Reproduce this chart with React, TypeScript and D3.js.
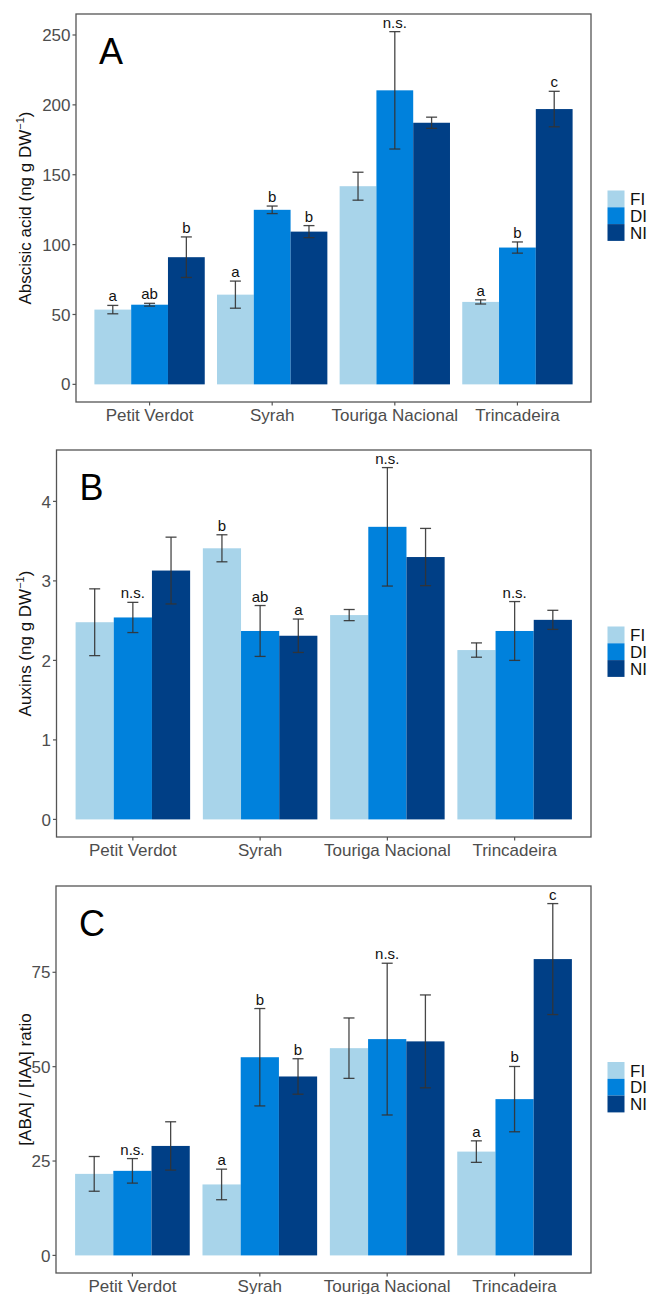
import React from 'react'
import * as d3 from 'd3'

const W = 650
const H = 1294

const cultivars = ['Petit Verdot', 'Syrah', 'Touriga Nacional', 'Trincadeira']
const treatments = ['FI', 'DI', 'NI']
const colors = ['#a8d4ea', '#0081dc', '#003f86']

// rows = cultivar, cols = FI, DI, NI
const abaMean = [[53.5, 57, 91], [64.2, 124.9, 109.3], [141.8, 210.4, 187.2], [59, 97.9, 197]]
const abaErr = [[3, 1, 14.5], [9.7, 2.7, 4.3], [10, 42, 4], [1.5, 4, 12.7]]
const abaLetters = [['a', 'ab', 'b'], ['a', 'b', 'b'], ['', 'n.s.', ''], ['a', 'b', 'c']]
const abaTicks = [0, 50, 100, 150, 200, 250]

const auxMean = [[2.48, 2.54, 3.13], [3.41, 2.37, 2.31], [2.57, 3.68, 3.3], [2.13, 2.37, 2.51]]
const auxErr = [[0.42, 0.19, 0.42], [0.17, 0.32, 0.21], [0.07, 0.745, 0.36], [0.09, 0.37, 0.12]]
const auxLetters = [['', 'n.s.', ''], ['b', 'ab', 'a'], ['', 'n.s.', ''], ['', 'n.s.', '']]
const auxTicks = [0, 1, 2, 3, 4]

const ratioMean = [[21.6, 22.4, 29.0], [18.8, 52.5, 47.4], [54.9, 57.3, 56.7], [27.5, 41.4, 78.5]]
const ratioErr = [[4.6, 3.25, 6.4], [4.05, 12.9, 4.7], [8, 20.1, 12.3], [2.85, 8.65, 14.7]]
const ratioLetters = [['', 'n.s.', ''], ['a', 'b', 'b'], ['', 'n.s.', ''], ['a', 'b', 'c']]
const ratioTicks = [0, 25, 50, 75]

const font = 'Liberation Sans, Arial, sans-serif'

const Panel = ({left, top, right, bottom, mean, err, letters, ticks, tag, title, legendTop}) => {
  const x = d3.scaleLinear().domain([0.4, 4.6]).range([left, right])
  const hi = d3.max(mean.flatMap((r, i) => r.map((m, j) => m + err[i][j])))
  const y = d3.scaleLinear().domain([-0.05 * hi, hi * 1.05]).range([bottom, top])
  const bw = 0.3

  return (
    <g fontFamily={font}>
      {mean.map((row, i) =>
        row.map((m, j) => {
          const c = i + 1 + (j - 1) * bw
          return (
            <rect key={`b${i}${j}`} x={x(c - bw / 2)} y={y(m)}
              width={x(c + bw / 2) - x(c - bw / 2)} height={y(0) - y(m)} fill={colors[j]} />
          )
        })
      )}
      {mean.map((row, i) =>
        row.map((m, j) => {
          const c = x(i + 1 + (j - 1) * bw)
          const y1 = y(m + err[i][j])
          const y2 = y(m - err[i][j])
          return (
            <g key={`e${i}${j}`} stroke="#333" strokeWidth={1.3} strokeOpacity={0.9}>
              <line x1={c} x2={c} y1={y1} y2={y2} />
              <line x1={c - 5.5} x2={c + 5.5} y1={y1} y2={y1} />
              <line x1={c - 5.5} x2={c + 5.5} y1={y2} y2={y2} />
              {letters[i][j] && (
                <text x={c} y={y1 - 4} textAnchor="middle" fontSize={15} fill="#111" stroke="none">
                  {letters[i][j]}
                </text>
              )}
            </g>
          )
        })
      )}
      <rect x={left} y={top} width={right - left} height={bottom - top}
        fill="none" stroke="#555" strokeWidth={1.3} />
      {ticks.map(t => (
        <g key={`y${t}`}>
          <line x1={left - 3.5} x2={left} y1={y(t)} y2={y(t)} stroke="#555" strokeWidth={1.2} />
          <text x={left - 5.5} y={y(t)} dy="0.36em" textAnchor="end" fontSize={17} fill="#4d4d4d">{t}</text>
        </g>
      ))}
      {cultivars.map((c, i) => (
        <g key={c}>
          <line x1={x(i + 1)} x2={x(i + 1)} y1={bottom} y2={bottom + 3.5} stroke="#555" strokeWidth={1.2} />
          <text x={x(i + 1)} y={bottom + 18.5} textAnchor="middle" fontSize={17} fill="#4d4d4d">{c}</text>
        </g>
      ))}
      <text transform={`translate(31,${(top + bottom) / 2}) rotate(-90)`} textAnchor="middle"
        fontSize={17} fill="#111">{title}</text>
      <text x={left + 23} y={top + 50} fontSize={36} fill="#000">{tag}</text>
      {treatments.map((t, j) => (
        <g key={t}>
          <rect x={607.5} y={legendTop + j * 16.8} width={17} height={16.8} fill={colors[j]} />
          <text x={630} y={legendTop + j * 16.8 + 8.4} dy="0.36em" fontSize={17} fill="#111">{t}</text>
        </g>
      ))}
    </g>
  )
}

const unitTitle = (name) => (
  <>
    {name} (ng g DW
    <tspan fontSize={11} dy={-7}>−1</tspan>
    <tspan dy={7}>)</tspan>
  </>
)

const App = () => (
  <svg width={W} height={H} style={{position: 'absolute', left: 0, top: 0, background: '#fff'}}>
    <Panel left={76} top={14} right={591} bottom={402} mean={abaMean} err={abaErr}
      letters={abaLetters} ticks={abaTicks} tag="A" title={unitTitle('Abscisic acid')} legendTop={190.5} />
    <Panel left={56.5} top={450} right={591} bottom={837} mean={auxMean} err={auxErr}
      letters={auxLetters} ticks={auxTicks} tag="B" title={unitTitle('Auxins')} legendTop={626.5} />
    <Panel left={56} top={886} right={591} bottom={1273} mean={ratioMean} err={ratioErr}
      letters={ratioLetters} ticks={ratioTicks} tag="C" title="[ABA] / [IAA] ratio" legendTop={1062} />
  </svg>
)

export default App
